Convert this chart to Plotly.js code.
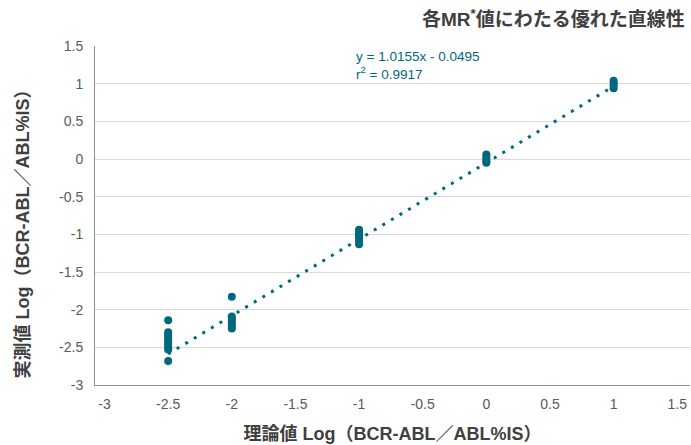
<!DOCTYPE html>
<html>
<head>
<meta charset="utf-8">
<script src="https://cdn.plot.ly/plotly-3.0.1.min.js"></script>
<style>html,body{margin:0;padding:0;background:#fff;}#chart{width:691px;height:445px;}</style>
</head>
<body>
<div id="chart"></div>
<script>
// Theoretical log values (x) and measured log values (y)
const xTheory = [
  -2.5,-2.5,-2.5,-2.5,-2.5,-2.5,-2.5,-2.5,-2.5,-2.5,-2.5,
  -2,-2,-2,-2,-2,-2,-2,
  -1,-1,-1,-1,-1,-1,-1,
  0,0,0,0,0,
  1,1,1,1
];
const yMeasured = [
  -2.14,-2.30,-2.33,-2.36,-2.39,-2.42,-2.45,-2.48,-2.51,-2.53,-2.68,
  -1.83,-2.09,-2.12,-2.15,-2.18,-2.21,-2.25,
  -0.94,-0.97,-1.00,-1.03,-1.06,-1.09,-1.13,
  0.06,0.03,0.00,-0.03,-0.05,
  1.04,1.01,0.98,0.94
];
// Linear trendline endpoints (y = 1.0155x - 0.0495)
const trendX = [-2.5, 1];
const trendY = [-2.588, 0.966];
const xTicks = [-3,-2.5,-2,-1.5,-1,-0.5,0,0.5,1,1.5];
const yTicks = [-3,-2.5,-2,-1.5,-1,-0.5,0,0.5,1,1.5];
const eqLine1 = 'y = 1.0155x - 0.0495';
const eqLine2 = 'r<sup>2</sup> = 0.9917';
const titleText = '各MR<sup>*</sup>値にわたる優れた直線性';
const xTitle = '理論値 Log（BCR-ABL／ABL%IS）';
const yTitle = '実測値 Log（BCR-ABL／ABL%IS）';

const teal = '#00687c';
const latin = 'Liberation Sans, Arial, sans-serif';
const tickFont = {family: latin, size: 14, color: '#595959'};
const axTitleFont = {family: 'Liberation Sans, Noto Sans CJK JP, sans-serif', size: 18, color: '#404040', weight: 'bold'};
const eqFont = {family: latin, size: 13.5, color: teal};

const traces = [
  {
    x: trendX, y: trendY, mode: 'lines', type: 'scatter',
    line: {color: teal, width: 3, dash: '3px,7px'},
    hoverinfo: 'skip', showlegend: false
  },
  {
    x: xTheory, y: yMeasured, mode: 'markers', type: 'scatter',
    marker: {color: teal, size: 8},
    showlegend: false
  }
];

const layout = {
  width: 691, height: 445,
  margin: {l: 95, r: 1, t: 46, b: 60},
  paper_bgcolor: '#fff', plot_bgcolor: '#fff',
  showlegend: false,
  xaxis: {
    range: [-3.075, 1.6], tickvals: xTicks, ticktext: xTicks.map(String),
    showgrid: false, zeroline: false, showline: true, linecolor: '#8c8c8c', linewidth: 1,
    ticks: '', tickfont: tickFont, ticklabelstandoff: 6,
    title: {text: xTitle, font: axTitleFont, standoff: 16}
  },
  yaxis: {
    range: [-3, 1.5], tickvals: yTicks, ticktext: yTicks.map(String),
    showgrid: true, gridcolor: '#d9d9d9', gridwidth: 1, zeroline: false,
    showline: true, linecolor: '#8c8c8c', linewidth: 1,
    ticks: '', tickfont: tickFont, ticklabelstandoff: 8
  },
  annotations: [
    {
      xref: 'paper', yref: 'paper', x: 0, y: 0.5, xanchor: 'center', yanchor: 'middle',
      xshift: -73, yshift: -14, textangle: -90,
      text: yTitle, showarrow: false, font: axTitleFont
    },
    {
      xref: 'paper', yref: 'paper', x: 0.443, y: 1.0, xanchor: 'left', yanchor: 'middle',
      xshift: -5, yshift: -10,
      text: eqLine1, showarrow: false, align: 'left', font: eqFont
    },
    {
      xref: 'paper', yref: 'paper', x: 0.443, y: 1.0, xanchor: 'left', yanchor: 'middle',
      xshift: -5, yshift: -27,
      text: eqLine2, showarrow: false, align: 'left', font: eqFont
    },
    {
      xref: 'paper', yref: 'paper', x: 1, y: 1, xanchor: 'right', yanchor: 'middle',
      yshift: 28, xshift: -3,
      text: titleText, showarrow: false, align: 'right',
      font: {family: 'Liberation Sans, Noto Sans CJK JP, sans-serif', size: 19, color: '#404040', weight: 'bold'}
    }
  ]
};

Plotly.newPlot('chart', traces, layout, {displayModeBar: false, staticPlot: true});
</script>
</body>
</html>
